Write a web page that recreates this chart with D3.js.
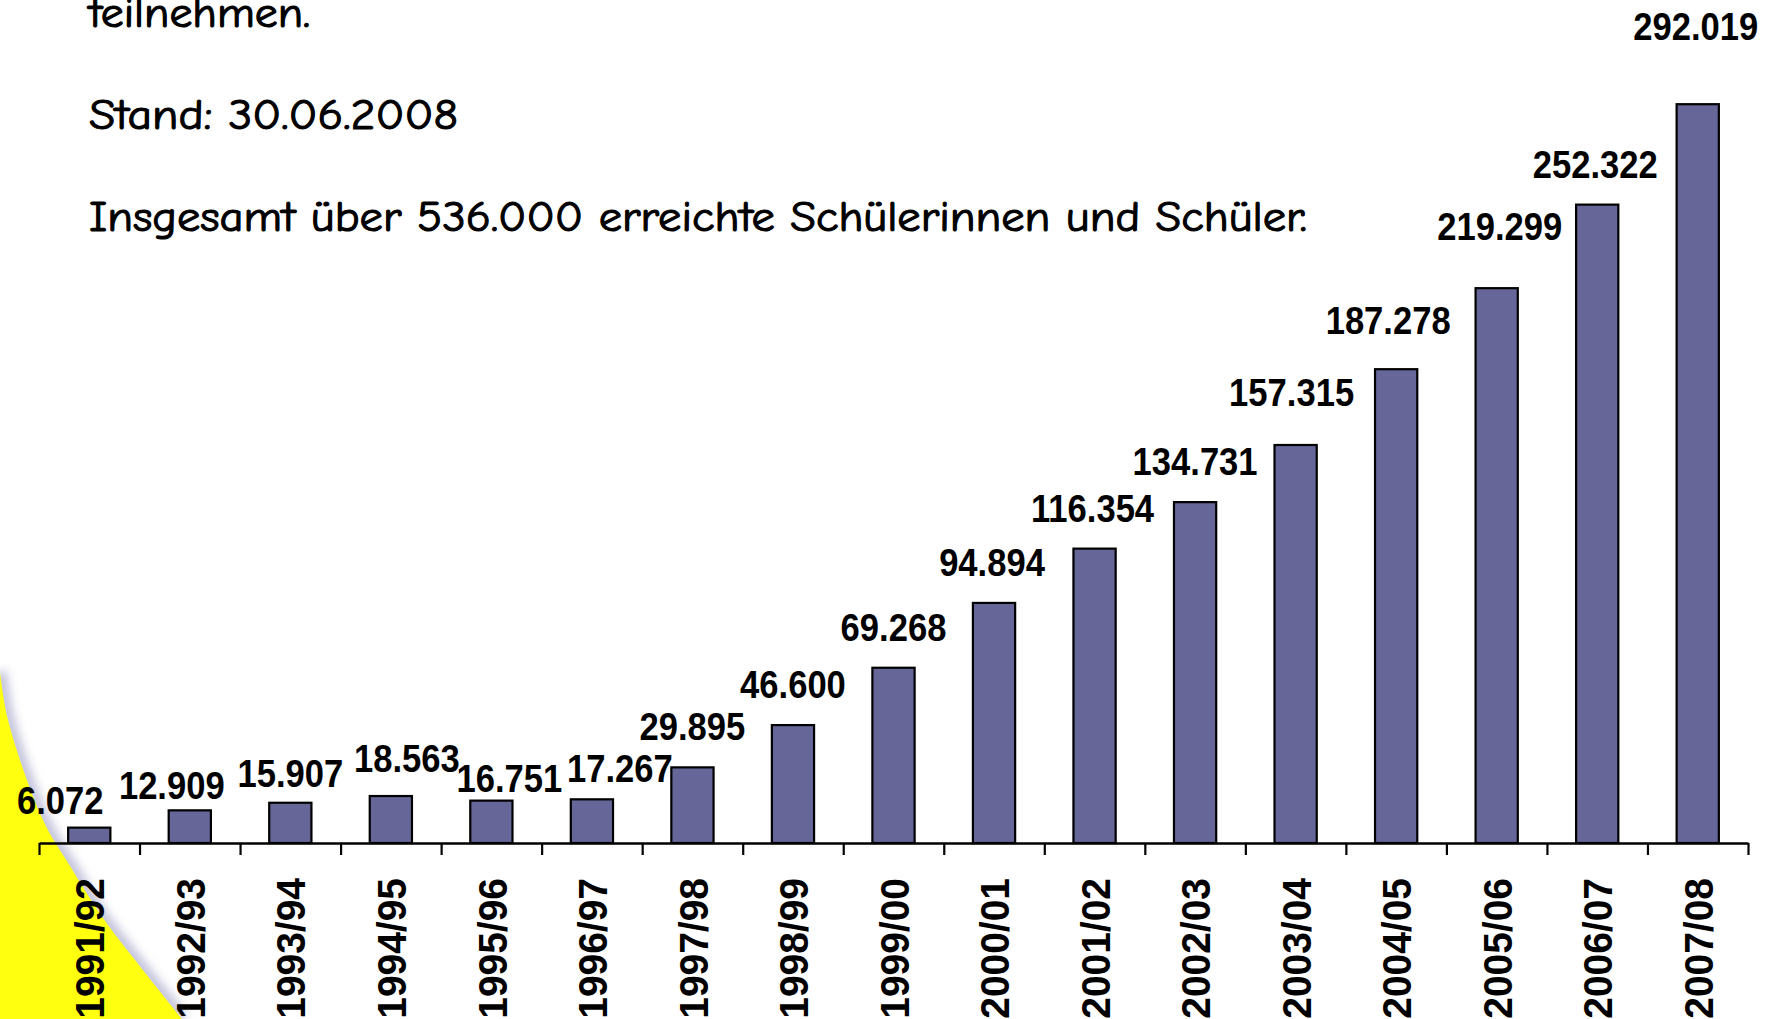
<!DOCTYPE html>
<html>
<head>
<meta charset="utf-8">
<script src="https://cdn.jsdelivr.net/npm/d3@7"></script>
<style>
  html, body { margin: 0; padding: 0; background: #ffffff; overflow: hidden; }
  svg { display: block; }
</style>
</head>
<body>
<svg id="chart" width="1773" height="1019"></svg>
<script>
// ---- data ----
const categories = ["1991/92","1992/93","1993/94","1994/95","1995/96","1996/97","1997/98","1998/99",
  "1999/00","2000/01","2001/02","2002/03","2003/04","2004/05","2005/06","2006/07","2007/08"];
const values = [6072, 12909, 15907, 18563, 16751, 17267, 29895, 46600,
  69268, 94894, 116354, 134731, 157315, 187278, 219299, 252322, 292019];
const textLines = [
  "teilnehmen.",
  "Stand: 30.06.2008",
  "Insgesamt über 536.000 erreichte Schülerinnen und Schüler."
];

// ---- layout (label nudges as placed in the original slide) ----
const labelNudgeX = [-29, -18, 0, 16, 18, 28, 0, 0, 0, -2, -2, 0, -4, -8, 3, -2, -2];
const labelNudgeY = [13, 16, 11, 3, 18, 10, 0, 0, 0, 0, 0, 0, -12, -8, -21, 0, -37];

const W = 1773, H = 1019;
const left = 39, right = 1748, baseY = 843, topY = 84;

const svg = d3.select("#chart");
svg.append("rect").attr("width", W).attr("height", H).attr("fill", "#ffffff");

// ---- decorative yellow corner ----
const defs = svg.append("defs");
defs.append("filter").attr("id", "blur").attr("x", "-50%").attr("y", "-50%").attr("width", "200%").attr("height", "200%")
  .append("feGaussianBlur").attr("stdDeviation", 5);
const edge = [[0, 672], [8, 720], [43, 820], [70, 866], [103, 918], [135, 960], [182, 1019]];
const edgeLine = d3.line().curve(d3.curveCatmullRom);
svg.append("path").attr("d", edgeLine(edge)).attr("fill", "none")
  .attr("stroke", "#c4c4dc").attr("stroke-width", 14).attr("filter", "url(#blur)");
svg.append("path")
  .attr("d", edgeLine(edge) + "L0,1019Z")
  .attr("fill", "#ffff10");

// ---- scales ----
const x = d3.scaleBand().domain(categories).range([left, right]).paddingInner(0.58).paddingOuter(0.29);
const y = d3.scaleLinear().domain([0, 300000]).range([baseY, topY]);
const xEdge = d3.scaleLinear().domain([0, categories.length]).range([left, right]);

const de = d3.formatLocale({ decimal: ",", thousands: ".", grouping: [3], currency: ["", " €"] });
const fmt = de.format(",");

// ---- top text ----
const textBaselines = [27, 129, 231];
const textLengths = [221, 369, 1218];
svg.append("g").selectAll("text").data(textLines).join("text")
  .attr("x", 89)
  .attr("y", (d, i) => textBaselines[i])
  .attr("textLength", (d, i) => textLengths[i])
  .attr("lengthAdjust", "spacingAndGlyphs")
  .attr("font-family", "'Comic Sans MS', 'Comic Neue', 'Noto Sans', sans-serif")
  .attr("font-size", 43)
  .attr("fill", "#000")
  .attr("stroke", "#000")
  .attr("stroke-width", 1.1)
  .text(d => d);

// ---- bars ----
svg.append("g").selectAll("rect").data(values).join("rect")
  .attr("x", (d, i) => x(categories[i]))
  .attr("y", d => y(d))
  .attr("width", x.bandwidth())
  .attr("height", d => y(0) - y(d))
  .attr("fill", "#666699")
  .attr("stroke", "#000")
  .attr("stroke-width", 2.2);

// ---- value labels ----
svg.append("g").selectAll("text").data(values).join("text")
  .attr("transform", (d, i) => `translate(${x(categories[i]) + x.bandwidth() / 2 + labelNudgeX[i]},${y(d) - 27 + labelNudgeY[i]}) scale(0.91,1)`)
  .attr("text-anchor", "middle")
  .attr("font-family", "'Liberation Sans', Arial, Helvetica, sans-serif")
  .attr("font-weight", "bold")
  .attr("font-size", 38)
  .attr("fill", "#000")
  .text(d => fmt(d));

// ---- axis line with boundary ticks ----
const edgeAxis = svg.append("g").attr("transform", `translate(0,${baseY})`)
  .call(d3.axisBottom(xEdge).tickValues(d3.range(categories.length + 1)).tickFormat("").tickSize(12).tickSizeOuter(0));
edgeAxis.select(".domain").attr("stroke", "#000").attr("stroke-width", 2.6);
edgeAxis.selectAll(".tick line").attr("stroke", "#000").attr("stroke-width", 2.2);

// ---- category labels ----
const catAxis = svg.append("g").attr("transform", `translate(0,${baseY})`)
  .call(d3.axisBottom(x).tickSize(0));
catAxis.select(".domain").remove();
catAxis.selectAll(".tick text")
  .attr("x", 0).attr("y", 0).attr("dy", "0.37em")
  .attr("transform", "translate(0,35) rotate(-90) scale(0.95,1)")
  .attr("text-anchor", "end")
  .attr("font-family", "'Liberation Sans', Arial, Helvetica, sans-serif")
  .attr("font-weight", "bold")
  .attr("font-size", 41)
  .attr("fill", "#000");
</script>
</body>
</html>
